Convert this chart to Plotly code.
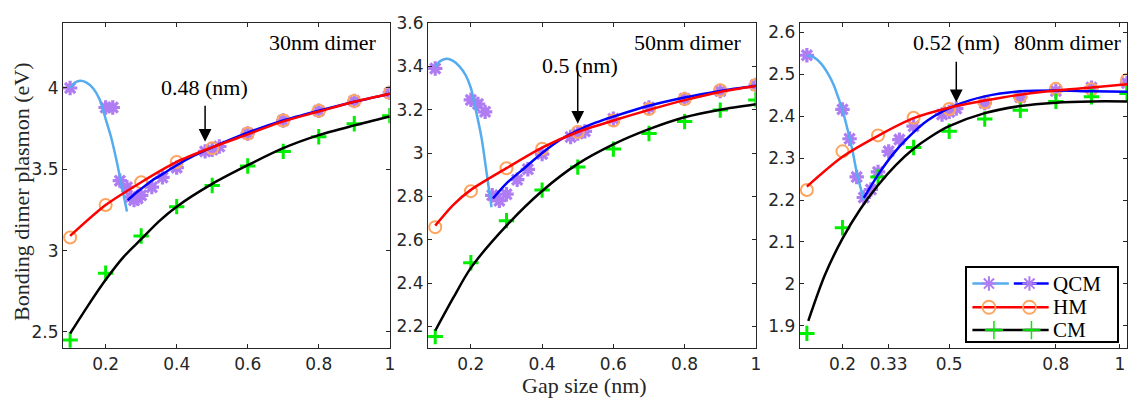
import plotly.graph_objects as go

# ---------------- data ----------------
gap_nm = [0.1, 0.2, 0.3, 0.4, 0.5, 0.6, 0.7, 0.8, 0.9, 1.0]

# ---- 30 nm dimer ----
d30_qcm_x = [0.1, 0.2, 0.22, 0.24, 0.26, 0.27, 0.28, 0.29, 0.3, 0.33, 0.36, 0.4, 0.48, 0.5, 0.52, 0.6, 0.7, 0.8, 0.9, 1.0]
d30_qcm_y = [4.0, 3.88, 3.88, 3.43, 3.39, 3.33, 3.31, 3.32, 3.34, 3.39, 3.45, 3.51, 3.61, 3.62, 3.64, 3.72, 3.80, 3.86, 3.92, 3.97]
d30_hm_y = [3.08, 3.28, 3.42, 3.545, 3.63, 3.72, 3.80, 3.86, 3.92, 3.97]
d30_cm_y = [2.45, 2.86, 3.09, 3.27, 3.40, 3.52, 3.61, 3.70, 3.78, 3.83]
d30_qcm_fit_a_x = [0.1, 0.115, 0.128, 0.145, 0.164, 0.183, 0.2, 0.215, 0.23, 0.245, 0.26]
d30_qcm_fit_a_y = [4.0, 4.035, 4.045, 4.035, 4.0, 3.93, 3.81, 3.70, 3.56, 3.40, 3.24]
d30_qcm_fit_b_x = [0.262, 0.28, 0.3, 0.33, 0.36, 0.4, 0.45, 0.5, 0.6, 0.7, 0.8, 0.9, 1.0]
d30_qcm_fit_b_y = [3.31, 3.345, 3.38, 3.43, 3.47, 3.525, 3.585, 3.635, 3.725, 3.80, 3.86, 3.915, 3.965]
d30_hm_fit_x = [0.1, 0.2, 0.3, 0.4, 0.5, 0.6, 0.7, 0.8, 0.9, 1.0]
d30_hm_fit_y = [3.09, 3.28, 3.42, 3.545, 3.635, 3.715, 3.795, 3.855, 3.915, 3.965]
d30_cm_fit_x = [0.1, 0.15, 0.2, 0.25, 0.3, 0.35, 0.4, 0.5, 0.6, 0.7, 0.8, 0.9, 1.0]
d30_cm_fit_y = [2.49, 2.66, 2.82, 2.96, 3.07, 3.18, 3.27, 3.41, 3.525, 3.63, 3.71, 3.77, 3.825]

# ---- 50 nm dimer ----
d50_qcm_x = [0.1, 0.2, 0.22, 0.24, 0.26, 0.28, 0.3, 0.33, 0.36, 0.4, 0.48, 0.5, 0.52, 0.6, 0.7, 0.8, 0.9, 1.0]
d50_qcm_y = [3.39, 3.245, 3.226, 3.19, 2.805, 2.78, 2.81, 2.877, 2.925, 2.995, 3.074, 3.09, 3.10, 3.158, 3.21, 3.25, 3.286, 3.314]
d50_hm_y = [2.658, 2.824, 2.93, 3.02, 3.097, 3.15, 3.203, 3.249, 3.29, 3.314]
d50_cm_y = [2.153, 2.494, 2.688, 2.829, 2.935, 3.018, 3.09, 3.145, 3.198, 3.245]
d50_qcm_fit_a_x = [0.1, 0.115, 0.133, 0.15, 0.168, 0.185, 0.2, 0.215, 0.23, 0.245, 0.258]
d50_qcm_fit_a_y = [3.40, 3.425, 3.435, 3.425, 3.40, 3.36, 3.30, 3.19, 3.07, 2.90, 2.75]
d50_qcm_fit_b_x = [0.262, 0.3, 0.35, 0.4, 0.45, 0.5, 0.55, 0.6, 0.7, 0.8, 0.9, 1.0]
d50_qcm_fit_b_y = [2.79, 2.86, 2.93, 3.0, 3.06, 3.105, 3.14, 3.168, 3.218, 3.256, 3.286, 3.31]
d50_hm_fit_x = [0.1, 0.15, 0.2, 0.3, 0.4, 0.5, 0.6, 0.7, 0.8, 0.9, 1.0]
d50_hm_fit_y = [2.665, 2.76, 2.83, 2.93, 3.025, 3.097, 3.15, 3.199, 3.244, 3.282, 3.309]
d50_cm_fit_x = [0.1, 0.15, 0.2, 0.3, 0.4, 0.5, 0.6, 0.7, 0.8, 0.9, 1.0]
d50_cm_fit_y = [2.18, 2.33, 2.47, 2.665, 2.825, 2.95, 3.04, 3.11, 3.165, 3.20, 3.225]

# ---- 80 nm dimer ----
d80_qcm_x = [0.1, 0.2, 0.22, 0.24, 0.26, 0.28, 0.3, 0.33, 0.36, 0.4, 0.48, 0.5, 0.52, 0.6, 0.7, 0.8, 0.9, 1.0]
d80_qcm_y = [2.545, 2.416, 2.346, 2.255, 2.206, 2.225, 2.267, 2.316, 2.344, 2.376, 2.404, 2.41, 2.418, 2.431, 2.445, 2.46, 2.468, 2.479]
d80_hm_y = [2.224, 2.316, 2.354, 2.396, 2.417, 2.433, 2.446, 2.465, 2.464, 2.486]
d80_cm_y = [1.882, 2.134, 2.255, 2.325, 2.364, 2.393, 2.414, 2.435, 2.446, 2.454]
d80_qcm_fit_a_x = [0.1, 0.12, 0.14, 0.16, 0.175, 0.19, 0.2, 0.21, 0.22, 0.23, 0.24, 0.25, 0.26]
d80_qcm_fit_a_y = [2.545, 2.54, 2.525, 2.50, 2.475, 2.44, 2.415, 2.383, 2.348, 2.31, 2.266, 2.232, 2.20]
d80_qcm_fit_b_x = [0.26, 0.3, 0.34, 0.38, 0.44, 0.52, 0.6, 0.7, 0.8, 0.9, 1.0]
d80_qcm_fit_b_y = [2.205, 2.26, 2.307, 2.345, 2.39, 2.426, 2.447, 2.459, 2.461, 2.459, 2.458]
d80_hm_fit_x = [0.1, 0.2, 0.3, 0.4, 0.5, 0.6, 0.7, 0.8, 0.9, 1.0]
d80_hm_fit_y = [2.232, 2.303, 2.353, 2.395, 2.42, 2.437, 2.451, 2.461, 2.468, 2.476]
d80_cm_fit_x = [0.104, 0.15, 0.2, 0.25, 0.3, 0.35, 0.4, 0.45, 0.5, 0.6, 0.7, 0.8, 0.9, 1.0]
d80_cm_fit_y = [1.912, 2.02, 2.108, 2.178, 2.235, 2.283, 2.322, 2.352, 2.376, 2.407, 2.424, 2.432, 2.435, 2.435]

panel_titles = ["30nm dimer", "50nm dimer", "80nm dimer"]
crossover_labels = ["0.48 (nm)", "0.5 (nm)", "0.52 (nm)"]
crossover_x = [0.48, 0.5, 0.52]
legend_labels = ["QCM", "HM", "CM"]
x_label = "Gap size (nm)"
y_label = "Bonding dimer plasmon (eV)"

# ---------------- styles / layout ----------------
W, H = 1138, 403
C_STAR = "#b07cf4"
C_CIRC = "#ffa45e"
C_PLUS = "#00ee00"
C_LBLUE = "#55acee"
C_DBLUE = "#0000ff"
C_RED = "#ff0000"
C_BLACK = "#000000"
AX_COL = "#262626"
SERIF = "Liberation Serif"
SANS = "DejaVu Sans"
LW = 2.5


def px_x(p):
    return p / W


def px_y(p):
    return 1 - p / H


panels = [
    dict(xd=(63.3, 391.5), qx=d30_qcm_x, qy=d30_qcm_y, hm=d30_hm_y, cm=d30_cm_y,
         fa=(d30_qcm_fit_a_x, d30_qcm_fit_a_y), fb=(d30_qcm_fit_b_x, d30_qcm_fit_b_y),
         fh=(d30_hm_fit_x, d30_hm_fit_y), fc=(d30_cm_fit_x, d30_cm_fit_y),
         yr=[2.4, 4.4], yt=[2.5, 3, 3.5, 4], ytt=["2.5", "3", "3.5", "4"],
         xt=[0.2, 0.4, 0.6, 0.8, 1.0], xtt=["0.2", "0.4", "0.6", "0.8", "1"],
         title_r=380.5, arrow=(3.67, 3.90), lab=(0.478, 4.0)),
    dict(xd=(430.0, 759.2), qx=d50_qcm_x, qy=d50_qcm_y, hm=d50_hm_y, cm=d50_cm_y,
         fa=(d50_qcm_fit_a_x, d50_qcm_fit_a_y), fb=(d50_qcm_fit_b_x, d50_qcm_fit_b_y),
         fh=(d50_hm_fit_x, d50_hm_fit_y), fc=(d50_cm_fit_x, d50_cm_fit_y),
         yr=[2.1, 3.6], yt=[2.2, 2.4, 2.6, 2.8, 3.0, 3.2, 3.4, 3.6],
         ytt=["2.2", "2.4", "2.6", "2.8", "3", "3.2", "3.4", "3.6"],
         xt=[0.2, 0.4, 0.6, 0.8, 1.0], xtt=["0.2", "0.4", "0.6", "0.8", "1"],
         title_r=747, arrow=(3.135, 3.385), lab=(0.507, 3.405)),
    dict(xd=(803.3, 1132.0), qx=d80_qcm_x, qy=d80_qcm_y, hm=d80_hm_y, cm=d80_cm_y,
         fa=(d80_qcm_fit_a_x, d80_qcm_fit_a_y), fb=(d80_qcm_fit_b_x, d80_qcm_fit_b_y),
         fh=(d80_hm_fit_x, d80_hm_fit_y), fc=(d80_cm_fit_x, d80_cm_fit_y),
         yr=[1.847, 2.622], yt=[1.9, 2.0, 2.1, 2.2, 2.3, 2.4, 2.5, 2.6],
         ytt=["1.9", "2", "2.1", "2.2", "2.3", "2.4", "2.5", "2.6"],
         xt=[0.2, 0.33, 0.5, 0.8, 0.98], xtt=["0.2", "0.33", "0.5", "0.8", "1"],
         title_r=1128.5, arrow=(2.433, 2.533), lab=(0.52, 2.576)),
]

fig = go.Figure()
annotations = []
Y_DOM = [px_y(346.7), px_y(13.3)]

for i, p in enumerate(panels):
    n = "" if i == 0 else str(i + 1)
    xa, ya = "x" + n, "y" + n
    # markers
    fig.add_trace(go.Scatter(x=p["qx"], y=p["qy"], mode="markers", xaxis=xa, yaxis=ya,
                             marker=dict(symbol="asterisk-open", size=12, color=C_STAR,
                                         line=dict(color=C_STAR, width=3.2)), showlegend=False))
    fig.add_trace(go.Scatter(x=gap_nm, y=p["hm"], mode="markers", xaxis=xa, yaxis=ya,
                             marker=dict(symbol="circle-open", size=12, color=C_CIRC,
                                         line=dict(color=C_CIRC, width=2)), showlegend=False))
    fig.add_trace(go.Scatter(x=gap_nm, y=p["cm"], mode="markers", xaxis=xa, yaxis=ya,
                             marker=dict(symbol="cross-thin-open", size=11, color=C_PLUS,
                                         line=dict(color=C_PLUS, width=3)), showlegend=False))
    # fitted curves
    for (cx, cy), col in [(p["fa"], C_LBLUE), (p["fb"], C_DBLUE), (p["fc"], C_BLACK), (p["fh"], C_RED)]:
        fig.add_trace(go.Scatter(x=cx, y=cy, mode="lines", xaxis=xa, yaxis=ya,
                                 line=dict(color=col, width=LW, shape="spline", smoothing=0.8),
                                 showlegend=False))
    axcommon = dict(showgrid=False, zeroline=False, showline=True, linecolor=AX_COL, linewidth=1.3,
                    mirror="allticks", ticks="inside", ticklen=4, tickwidth=1.2, tickcolor=AX_COL,
                    tickfont=dict(family=SANS, size=17, color=AX_COL))
    fig.layout["xaxis" + n] = dict(domain=[px_x(p["xd"][0]), px_x(p["xd"][1])], range=[0.08, 1.0],
                                   anchor=ya, tickvals=p["xt"], ticktext=p["xtt"], **axcommon)
    fig.layout["yaxis" + n] = dict(domain=Y_DOM, range=p["yr"], anchor=xa,
                                   tickvals=p["yt"], ticktext=p["ytt"], **axcommon)
    # panel title
    annotations.append(dict(text=panel_titles[i], xref="paper", yref="paper", x=px_x(p["title_r"]),
                            y=px_y(33.5), xanchor="right", yanchor="middle", showarrow=False,
                            font=dict(family=SERIF, size=22, color="black")))
    # arrow
    annotations.append(dict(x=crossover_x[i], y=p["arrow"][0], ax=crossover_x[i], ay=p["arrow"][1],
                            xref=xa, yref=ya, axref=xa, ayref=ya, text="", showarrow=True,
                            arrowhead=2, arrowsize=1.7, arrowwidth=1.5, arrowcolor="black"))
    annotations.append(dict(text=crossover_labels[i], x=p["lab"][0], y=p["lab"][1], xref=xa, yref=ya,
                            showarrow=False, xanchor="center", yanchor="middle",
                            font=dict(family=SERIF, size=22, color="black")))

# axis titles
annotations.append(dict(text=x_label, xref="paper", yref="paper", x=px_x(586.7), y=px_y(385),
                        xanchor="center", yanchor="middle", showarrow=False,
                        font=dict(family=SERIF, size=22, color=AX_COL)))
annotations.append(dict(text=y_label, xref="paper", yref="paper", x=px_x(21), y=px_y(186.7),
                        xanchor="center", yanchor="middle", showarrow=False, textangle=-90,
                        font=dict(family=SERIF, size=22, color=AX_COL)))

# ---------------- hand-drawn legend in its own small axes ----------------
LX0, LX1, LY0, LY1 = 971.7, 1121.7, 265.0, 339.0
fig.layout["xaxis4"] = dict(domain=[px_x(LX0), px_x(LX1)], range=[0, 1], anchor="y4",
                            showgrid=False, zeroline=False, showticklabels=False, ticks="",
                            showline=True, mirror=True, linecolor="black", linewidth=1.5, fixedrange=True)
fig.layout["yaxis4"] = dict(domain=[px_y(LY1), px_y(LY0)], range=[0, 1], anchor="x4",
                            showgrid=False, zeroline=False, showticklabels=False, ticks="",
                            showline=True, mirror=True, linecolor="black", linewidth=1.5, fixedrange=True)


def ly(py):
    return (LY1 - py) / (LY1 - LY0)


def lx(pxv):
    return (pxv - LX0) / (LX1 - LX0)


r_q, r_h, r_c = ly(280.5), ly(304.8), ly(328.2)
seg1 = [lx(976.7), lx(1013.3)]
seg2 = [lx(1018.3), lx(1053.3)]
full = [lx(976.7), lx(1053.3)]
m1, m2 = lx(993.3), lx(1034.0)


def lg(x, y, **kw):
    fig.add_trace(go.Scatter(x=x, y=y, xaxis="x4", yaxis="y4", showlegend=False, hoverinfo="skip", **kw))


lg(seg1, [r_q, r_q], mode="lines", line=dict(color=C_LBLUE, width=LW))
lg(seg2, [r_q, r_q], mode="lines", line=dict(color=C_DBLUE, width=LW))
lg([m1, m2], [r_q, r_q], mode="markers",
   marker=dict(symbol="asterisk-open", size=12, color=C_STAR, line=dict(color=C_STAR, width=2)))
lg(full, [r_h, r_h], mode="lines", line=dict(color=C_RED, width=LW))
lg([m1, m2], [r_h, r_h], mode="markers",
   marker=dict(symbol="circle-open", size=13, color=C_CIRC, line=dict(color=C_CIRC, width=1.8)))
lg(full, [r_c, r_c], mode="lines", line=dict(color=C_BLACK, width=LW))
for a, b in [(lx(990), lx(1006)), (lx(1029), lx(1044))]:
    lg([a, b], [r_c, r_c], mode="lines", line=dict(color="#118a11", width=LW))
lg([lx(998.3), lx(1036.0)], [r_c, r_c], mode="markers",
   marker=dict(symbol="cross-thin-open", size=13, color=C_PLUS, line=dict(color=C_PLUS, width=1.5)))

for lab, r in zip(legend_labels, [r_q, r_h, r_c]):
    annotations.append(dict(text=lab, x=lx(1055.5), y=r, xref="x4", yref="y4", xanchor="left",
                            yanchor="middle", showarrow=False, height=20,
                            font=dict(family=SERIF, size=21, color="black")))

fig.update_layout(width=W, height=H, margin=dict(l=0, r=0, t=0, b=0),
                  plot_bgcolor="white", paper_bgcolor="white",
                  annotations=annotations, showlegend=False)

fig.write_html("out.html", config={"displayModeBar": False},
               post_script="document.body.style.margin='0';document.body.style.overflow='hidden';")
